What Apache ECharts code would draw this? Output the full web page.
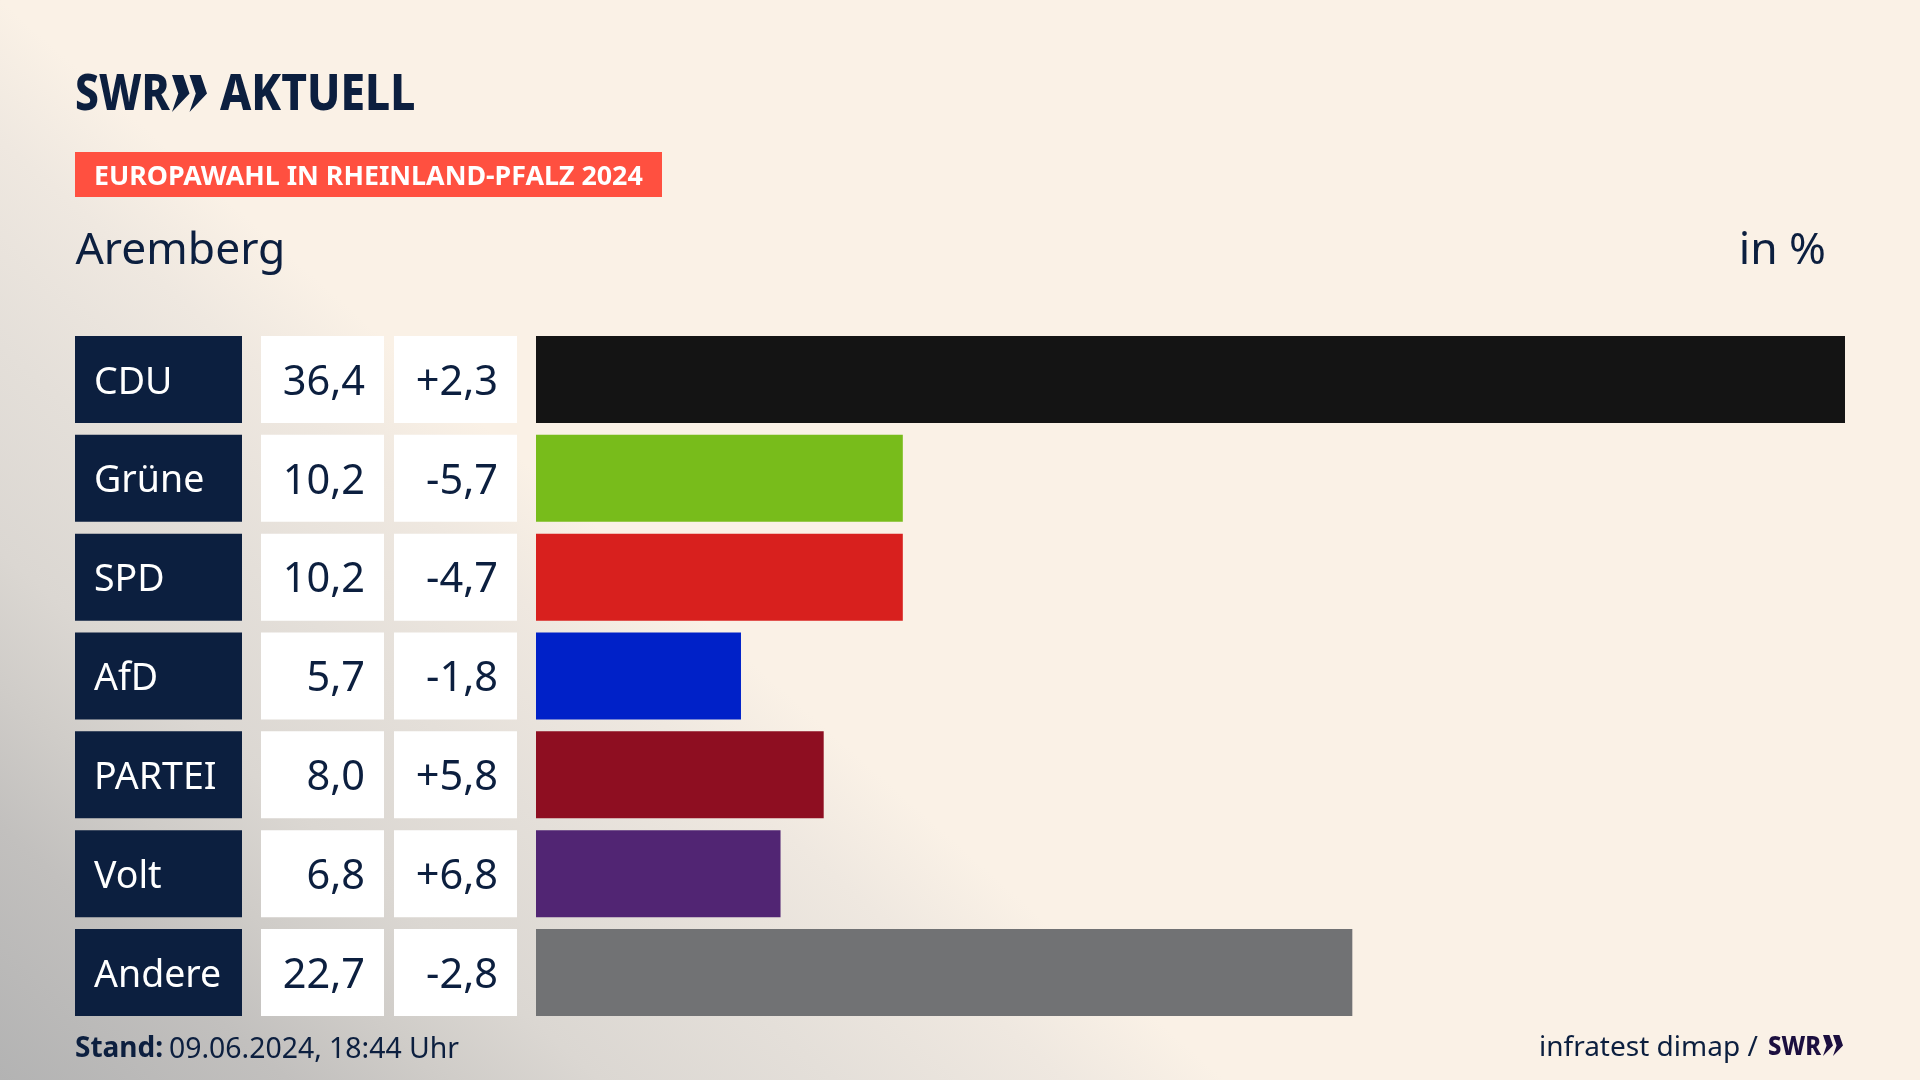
<!DOCTYPE html>
<html><head><meta charset="utf-8">
<style>html,body{margin:0;padding:0;background:#faf1e6}#c{width:1920px;height:1080px}</style>
<script src="https://cdn.jsdelivr.net/npm/echarts@6/dist/echarts.min.js"></script>
</head><body><div id="c"></div>
<script>
const parties = ['CDU','Grüne','SPD','AfD','PARTEI','Volt','Andere'];
const shares = [36.4,10.2,10.2,5.7,8.0,6.8,22.7];
const changes = ['+2,3','-5,7','-4,7','-1,8','+5,8','+6,8','-2,8'];
const barColors = ['#141414','#78bc1b','#d8201e','#0021c8','#8e0e21','#512573','#717274'];
const FONT = '"Noto Sans"';
const NAVY = '#0c1f3f';
const fmt = v => v.toFixed(1).replace('.', ',');

function chevrons(x, y, h, w, gap, color){
  const t = w*0.64;
  return [0,1].map(i=>({type:'polygon',silent:true,shape:{points:[
    [x+i*gap,y],[x+i*gap+t,y],[x+i*gap+w,y+h/2],[x+i*gap,y+h],[x+i*gap+w-t,y+h/2]
  ]},style:{fill:color}}));
}
function cellAxis(data, color, offset, align, fontSize, opts){
  return {
    type:'category',inverse:true,data,position:'left',offset,gridIndex:0,
    axisLine:{show:false},axisTick:{show:false},splitLine:{show:false},
    axisLabel:Object.assign({
      interval:0,margin:0,hideOverlap:false,height:80,
      formatter:v=>'{t|'+v+'}',
      rich:{t:{color,fontFamily:FONT,fontSize,lineHeight:80,height:80,align}}
    },opts)
  };
}
const chart = echarts.init(document.getElementById('c'),null,{renderer:'canvas',width:1920,height:1080});
chart.setOption({
  animation:false,
  backgroundColor:{type:'linear',x:0,y:1080,x2:536,y2:472,global:true,colorStops:[
    {offset:0,color:'#b3b3b3'},{offset:.235,color:'#c2c0be'},{offset:.36,color:'#cfccc8'},{offset:.49,color:'#dbd7d2'},
    {offset:.68,color:'#e4dfd9'},{offset:.87,color:'#efe8e0'},{offset:1,color:'#faf1e6'}]},
  grid:{left:536,right:75,top:330,height:692,containLabel:false},
  xAxis:{type:'value',min:0,max:36.4,show:false},
  yAxis:[
    {type:'category',inverse:true,data:parties,show:false},
    cellAxis(parties,'#ffffff',536-75,'left',37.5,{align:'left',backgroundColor:NAVY,width:148,padding:[7,0,0,19]}),
    cellAxis(shares.map(fmt),NAVY,536-384,'right',41.5,{align:'right',backgroundColor:'#fff',width:104,padding:[7,19,0,0]}),
    cellAxis(changes,NAVY,536-517,'right',41.5,{align:'right',backgroundColor:'#fff',width:104,padding:[7,19,0,0]})
  ],
  series:[{type:'bar',barWidth:87,xAxisIndex:0,yAxisIndex:0,data:shares.map((v,i)=>({value:v,itemStyle:{color:barColors[i]}}))},
    {type:'bar',yAxisIndex:1,data:[],silent:true},{type:'bar',yAxisIndex:2,data:[],silent:true},{type:'bar',yAxisIndex:3,data:[],silent:true}],
  graphic:[
    {type:'text',silent:true,x:75,y:71,scaleX:.85,style:{text:'SWR',fill:NAVY,font:'800 50px '+FONT}},
    ...chevrons(172,75,37,17.5,17.5,NAVY),
    {type:'text',silent:true,x:220,y:71,scaleX:.885,style:{text:'AKTUELL',fill:NAVY,font:'800 50px '+FONT}},
    {type:'rect',silent:true,shape:{x:75,y:152,width:587,height:45},style:{fill:'#ff5040'}},
    {type:'text',silent:true,x:94,y:177,style:{text:'EUROPAWAHL IN RHEINLAND-PFALZ 2024',fill:'#fff',font:'700 26.8px '+FONT,verticalAlign:'middle'}},
    {type:'text',silent:true,x:75.5,y:251.5,style:{text:'Aremberg',fill:NAVY,font:'400 44.4px '+FONT,verticalAlign:'middle'}},
    {type:'text',silent:true,x:1826,y:251.5,style:{text:'in %',fill:NAVY,font:'400 44.4px '+FONT,align:'right',verticalAlign:'middle'}},
    {type:'text',silent:true,x:75,y:1049.5,style:{text:'Stand:',fill:NAVY,font:'700 28px '+FONT,verticalAlign:'middle'}},
    {type:'text',silent:true,x:169,y:1049.5,style:{text:'09.06.2024, 18:44 Uhr',fill:NAVY,font:'400 28.4px '+FONT,verticalAlign:'middle'}},
    {type:'text',silent:true,x:1539,y:1048,style:{text:'infratest dimap /',fill:NAVY,font:'400 28px '+FONT,verticalAlign:'middle'}},
    {type:'text',silent:true,x:1768,y:1047,scaleX:.88,style:{text:'SWR',fill:'#1c0f3f',font:'800 27px '+FONT,verticalAlign:'middle'}},
    ...chevrons(1823,1035,21,10,10,'#1c0f3f')
  ]
});
</script></body></html>
